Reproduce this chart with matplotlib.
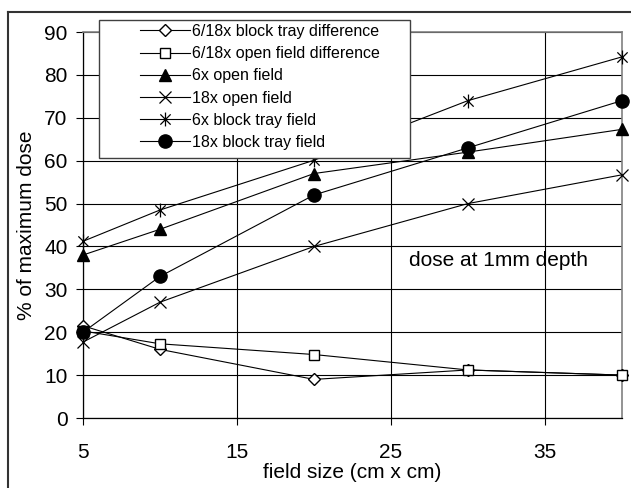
import numpy as np
import matplotlib
matplotlib.use("Agg")
import matplotlib.pyplot as plt
from matplotlib.path import Path
from matplotlib.patches import Rectangle
from matplotlib.lines import Line2D

plt.rcParams["font.family"] = ["Liberation Sans", "DejaVu Sans"]

# data
FIELD_SIZE = [5, 10, 20, 30, 40]
BLOCK_DIFF = [21.5, 16.0, 9.0, 11.2, 10.0]
OPEN_DIFF = [20.3, 17.3, 14.8, 11.2, 10.0]
OPEN_6X = [38.0, 44.0, 57.0, 62.0, 67.3]
OPEN_18X = [17.7, 27.0, 40.0, 50.0, 56.7]
BLOCK_6X = [41.2, 48.5, 60.1, 74.0, 84.2]
BLOCK_18X = [20.0, 33.0, 52.0, 63.0, 74.0]

LABELS = [
    "6/18x block tray difference",
    "6/18x open field difference",
    "6x open field",
    "18x open field",
    "6x block tray field",
    "18x block tray field",
]

W, H = 631, 488

# Excel style asterisk: X plus a vertical bar
ASTERISK = Path(
    [(-1, -1), (1, 1), (-1, 1), (1, -1), (0, -1.35), (0, 1.35)],
    [Path.MOVETO, Path.LINETO, Path.MOVETO, Path.LINETO, Path.MOVETO, Path.LINETO],
)

STYLES = [
    dict(marker="D", ms=6.0, mfc="white"),
    dict(marker="s", ms=7.5, mfc="white"),
    dict(marker="^", ms=9.0, mfc="black"),
    dict(marker="x", ms=9.0, mfc="black", mew=0.9),
    dict(marker=ASTERISK, ms=10.0, mfc="black", mew=0.9),
    dict(marker="o", ms=9.5, mfc="black"),
]


def px_x(x):
    return x / W


def px_y(y):
    return 1 - y / H


fig = plt.figure(figsize=(W / 100, H / 100), dpi=100)
ax = fig.add_axes([px_x(83), px_y(418), (622 - 83) / W, (418 - 32) / H])

series = [BLOCK_DIFF, OPEN_DIFF, OPEN_6X, OPEN_18X, BLOCK_6X, BLOCK_18X]
handles = []
for vals, style, label in zip(series, STYLES, LABELS):
    (ln,) = ax.plot(FIELD_SIZE, vals, color="black", lw=0.8, mec="black",
                    label=label, zorder=3, clip_on=False, **style)
    handles.append(ln)

ax.set_xlim(5, 40)
ax.set_ylim(0, 90)
ax.set_xticks([5, 15, 25, 35])
ax.set_yticks(np.arange(0, 91, 10))
ax.grid(True, color="black", lw=0.8)
ax.set_axisbelow(True)
ax.tick_params(axis="both", labelsize=15, length=5, width=0.8, direction="out")
ax.tick_params(axis="x", pad=13)
ax.tick_params(axis="y", pad=6)
for side in ["left", "bottom"]:
    ax.spines[side].set_color("black")
    ax.spines[side].set_linewidth(0.9)
for side in ["top", "right"]:
    ax.spines[side].set_color("#808080")
    ax.spines[side].set_linewidth(1.2)

ax.text(26.2, 36.8, "dose at 1mm depth", fontsize=15, va="center", ha="left")

fig.text(px_x(352), px_y(472), "field size (cm x cm)", fontsize=15,
         ha="center", va="center")
fig.text(px_x(27), px_y(225), "% of maximum dose", fontsize=15,
         ha="center", va="center", rotation=90)

# legend box
box = Rectangle((px_x(99), px_y(158)), (410 - 99) / W, (158 - 20) / H,
                transform=fig.transFigure, facecolor="white",
                edgecolor="#404040", lw=1.0, zorder=4)
fig.add_artist(box)
leg = fig.legend(handles=handles, loc="upper left",
                 bbox_to_anchor=(px_x(140), px_y(24)),
                 bbox_transform=fig.transFigure, frameon=False,
                 fontsize=11.5, handlelength=3.1, handletextpad=0.15,
                 labelspacing=0.45, borderpad=0, borderaxespad=0,
                 numpoints=1)
leg.set_zorder(5)

# outer chart frame (partly cropped)
fig.add_artist(Line2D([px_x(8), 1.0], [px_y(12), px_y(12)],
                      transform=fig.transFigure, color="#333333", lw=1.5))
fig.add_artist(Line2D([px_x(8), px_x(8)], [px_y(12), 0.0],
                      transform=fig.transFigure, color="#333333", lw=1.5))

fig.savefig("out.png", dpi=100)
